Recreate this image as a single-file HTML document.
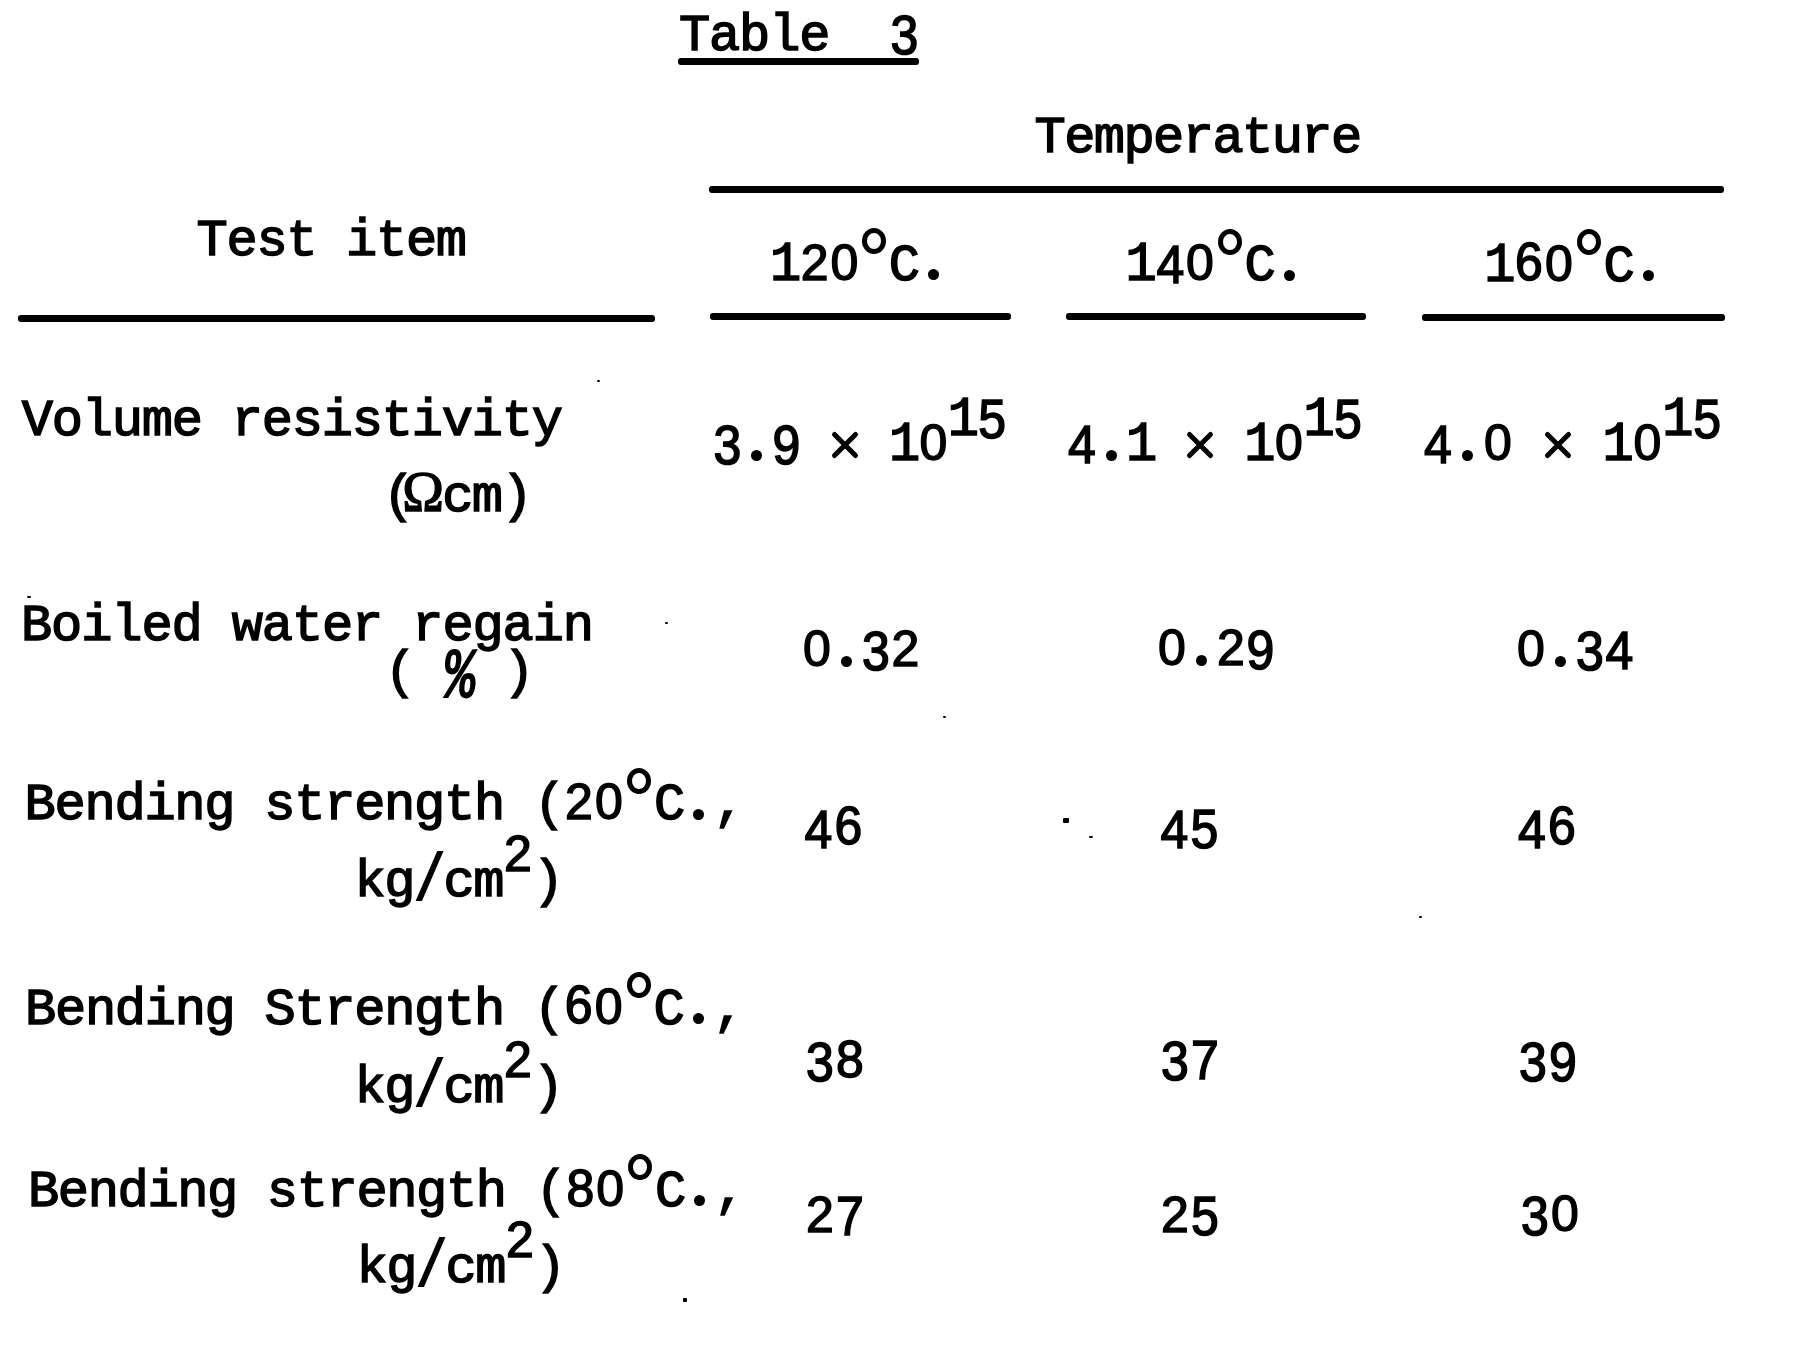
<!DOCTYPE html>
<html><head><meta charset="utf-8"><style>
html,body{margin:0;padding:0;background:#fff;}
body{width:1794px;height:1351px;position:relative;overflow:hidden;}
i{position:absolute;font-style:normal;width:30px;text-align:center;color:#000;white-space:pre;}
.m{font-family:"Liberation Mono",monospace;font-size:52px;line-height:52px;-webkit-text-stroke:1.5px #000;}
.s{font-family:"Liberation Sans",sans-serif;font-size:50px;line-height:50px;-webkit-text-stroke:1.4px #000;}
.om{font-family:"Liberation Serif",serif;-webkit-text-stroke:1.2px #000;font-size:52px;line-height:52px;width:40px;transform:scale(1.08);transform-origin:50% 43px;}
p{position:absolute;margin:0;width:11px;height:11px;border-radius:50%;background:#000;}
u{position:absolute;display:block;width:14px;height:16px;border:5px solid #000;border-radius:50%;}
b{position:absolute;background:#000;display:block;border-radius:3px;}
</style></head><body>

<i class="m" style="left:679.0px;top:11.0px">T</i>
<i class="m" style="left:709.1px;top:11.0px">a</i>
<i class="m" style="left:739.1px;top:11.0px">b</i>
<i class="m" style="left:769.2px;top:11.0px">l</i>
<i class="m" style="left:799.3px;top:11.0px">e</i>
<i class="s" style="left:889.5px;top:8.0px;transform:translateY(2.1px) scaleY(1.11)">3</i>
<i class="m" style="left:1034.5px;top:113.0px">T</i>
<i class="m" style="left:1064.2px;top:113.0px">e</i>
<i class="m" style="left:1093.8px;top:113.0px">m</i>
<i class="m" style="left:1123.5px;top:113.0px">p</i>
<i class="m" style="left:1153.1px;top:113.0px">e</i>
<i class="m" style="left:1182.8px;top:113.0px">r</i>
<i class="m" style="left:1212.4px;top:113.0px">a</i>
<i class="m" style="left:1242.0px;top:113.0px">t</i>
<i class="m" style="left:1271.7px;top:113.0px">u</i>
<i class="m" style="left:1301.3px;top:113.0px">r</i>
<i class="m" style="left:1331.0px;top:113.0px">e</i>
<i class="m" style="left:196.6px;top:215.5px">T</i>
<i class="m" style="left:226.5px;top:215.5px">e</i>
<i class="m" style="left:256.4px;top:215.5px">s</i>
<i class="m" style="left:286.3px;top:215.5px">t</i>
<i class="m" style="left:346.1px;top:215.5px">i</i>
<i class="m" style="left:376.0px;top:215.5px">t</i>
<i class="m" style="left:405.9px;top:215.5px">e</i>
<i class="m" style="left:435.8px;top:215.5px">m</i>
<i class="m" style="left:770.0px;top:240.5px;transform:scaleY(1.07);transform-origin:50% 39px">1</i>
<i class="s" style="left:799.7px;top:237.5px">2</i>
<i class="s" style="left:829.4px;top:237.5px">0</i>
<u style="left:862.1px;top:228.0px"></u>
<i class="m" style="left:888.8px;top:240.5px">C</i>
<p style="left:928.0px;top:269.0px"></p>
<i class="m" style="left:1125.6px;top:241.0px;transform:scaleY(1.07);transform-origin:50% 39px">1</i>
<i class="s" style="left:1155.3px;top:238.0px;transform:translateY(1.2px) scaleY(1.09)">4</i>
<i class="s" style="left:1185.0px;top:238.0px">0</i>
<u style="left:1217.7px;top:228.5px"></u>
<i class="m" style="left:1244.4px;top:241.0px">C</i>
<p style="left:1283.6px;top:269.5px"></p>
<i class="m" style="left:1484.2px;top:241.5px;transform:scaleY(1.07);transform-origin:50% 39px">1</i>
<i class="s" style="left:1514.0px;top:238.5px;transform:translateY(-2px) scaleY(1.06)">6</i>
<i class="s" style="left:1543.9px;top:238.5px">0</i>
<u style="left:1576.8px;top:229.0px"></u>
<i class="m" style="left:1603.6px;top:241.5px">C</i>
<p style="left:1643.0px;top:270.0px"></p>
<i class="m" style="left:21.8px;top:395.5px">V</i>
<i class="m" style="left:51.8px;top:395.5px">o</i>
<i class="m" style="left:81.8px;top:395.5px">l</i>
<i class="m" style="left:111.8px;top:395.5px">u</i>
<i class="m" style="left:141.8px;top:395.5px">m</i>
<i class="m" style="left:171.8px;top:395.5px">e</i>
<i class="m" style="left:231.8px;top:395.5px">r</i>
<i class="m" style="left:261.8px;top:395.5px">e</i>
<i class="m" style="left:291.8px;top:395.5px">s</i>
<i class="m" style="left:321.8px;top:395.5px">i</i>
<i class="m" style="left:351.8px;top:395.5px">s</i>
<i class="m" style="left:381.8px;top:395.5px">t</i>
<i class="m" style="left:411.8px;top:395.5px">i</i>
<i class="m" style="left:441.8px;top:395.5px">v</i>
<i class="m" style="left:471.8px;top:395.5px">i</i>
<i class="m" style="left:501.8px;top:395.5px">t</i>
<i class="m" style="left:531.8px;top:395.5px">y</i>
<i class="m" style="left:383.0px;top:471.5px">(</i>
<i class="om" style="left:402.6px;top:467.5px">Ω</i>
<i class="m" style="left:442.2px;top:471.5px">c</i>
<i class="m" style="left:471.8px;top:471.5px">m</i>
<i class="m" style="left:501.4px;top:471.5px">)</i>
<i class="s" style="left:712.5px;top:418.0px;transform:translateY(2.1px) scaleY(1.11)">3</i>
<p style="left:751.4px;top:449.5px"></p>
<i class="s" style="left:771.3px;top:418.0px;transform:translateY(2.2px) scaleY(1.11)">9</i>
<svg style="position:absolute;left:829.1px;top:428.5px" width="32" height="32" viewBox="0 0 32 32"><path d="M5.5 5.5L26.5 26.5M26.5 5.5L5.5 26.5" stroke="#000" stroke-width="5" stroke-linecap="round"/></svg>
<i class="m" style="left:888.9px;top:421.0px;transform:scaleY(1.07);transform-origin:50% 39px">1</i>
<i class="s" style="left:918.3px;top:418.0px">0</i>
<i class="m" style="left:947.7px;top:396.0px;transform:scaleY(1.07);transform-origin:50% 39px">1</i>
<i class="s" style="left:977.1px;top:393.0px;transform:translateY(0.5px) scaleY(1.12)">5</i>
<i class="s" style="left:1067.0px;top:418.0px;transform:translateY(1.2px) scaleY(1.09)">4</i>
<p style="left:1106.0px;top:449.5px"></p>
<i class="m" style="left:1126.1px;top:421.0px;transform:scaleY(1.07);transform-origin:50% 39px">1</i>
<svg style="position:absolute;left:1184.2px;top:428.5px" width="32" height="32" viewBox="0 0 32 32"><path d="M5.5 5.5L26.5 26.5M26.5 5.5L5.5 26.5" stroke="#000" stroke-width="5" stroke-linecap="round"/></svg>
<i class="m" style="left:1244.3px;top:421.0px;transform:scaleY(1.07);transform-origin:50% 39px">1</i>
<i class="s" style="left:1273.8px;top:418.0px">0</i>
<i class="m" style="left:1303.4px;top:396.0px;transform:scaleY(1.07);transform-origin:50% 39px">1</i>
<i class="s" style="left:1333.0px;top:393.0px;transform:translateY(0.5px) scaleY(1.12)">5</i>
<i class="s" style="left:1423.0px;top:418.0px;transform:translateY(1.2px) scaleY(1.09)">4</i>
<p style="left:1462.4px;top:449.5px"></p>
<i class="s" style="left:1482.8px;top:418.0px">0</i>
<svg style="position:absolute;left:1541.6px;top:428.5px" width="32" height="32" viewBox="0 0 32 32"><path d="M5.5 5.5L26.5 26.5M26.5 5.5L5.5 26.5" stroke="#000" stroke-width="5" stroke-linecap="round"/></svg>
<i class="m" style="left:1602.4px;top:421.0px;transform:scaleY(1.07);transform-origin:50% 39px">1</i>
<i class="s" style="left:1632.3px;top:418.0px">0</i>
<i class="m" style="left:1662.2px;top:396.0px;transform:scaleY(1.07);transform-origin:50% 39px">1</i>
<i class="s" style="left:1692.1px;top:393.0px;transform:translateY(0.5px) scaleY(1.12)">5</i>
<i class="m" style="left:21.0px;top:601.0px">B</i>
<i class="m" style="left:51.1px;top:601.0px">o</i>
<i class="m" style="left:81.2px;top:601.0px">i</i>
<i class="m" style="left:111.3px;top:601.0px">l</i>
<i class="m" style="left:141.4px;top:601.0px">e</i>
<i class="m" style="left:171.5px;top:601.0px">d</i>
<i class="m" style="left:231.7px;top:601.0px">w</i>
<i class="m" style="left:261.8px;top:601.0px">a</i>
<i class="m" style="left:291.9px;top:601.0px">t</i>
<i class="m" style="left:322.0px;top:601.0px">e</i>
<i class="m" style="left:352.1px;top:601.0px">r</i>
<i class="m" style="left:412.3px;top:601.0px">r</i>
<i class="m" style="left:442.4px;top:601.0px">e</i>
<i class="m" style="left:472.5px;top:601.0px">g</i>
<i class="m" style="left:502.6px;top:601.0px">a</i>
<i class="m" style="left:532.7px;top:601.0px">i</i>
<i class="m" style="left:562.8px;top:601.0px">n</i>
<i class="m" style="left:384.8px;top:648.0px">(</i>
<i class="m" style="left:444.0px;top:648.0px;transform:translateY(5px) scale(1.0,1.36) skewX(-8deg)">%</i>
<i class="m" style="left:503.2px;top:648.0px">)</i>
<i class="s" style="left:802.0px;top:624.0px">0</i>
<p style="left:841.0px;top:655.5px"></p>
<i class="s" style="left:861.0px;top:624.0px;transform:translateY(2.1px) scaleY(1.11)">3</i>
<i class="s" style="left:890.5px;top:624.0px">2</i>
<i class="s" style="left:1157.0px;top:623.0px">0</i>
<p style="left:1196.0px;top:654.5px"></p>
<i class="s" style="left:1216.0px;top:623.0px">2</i>
<i class="s" style="left:1245.5px;top:623.0px;transform:translateY(2.2px) scaleY(1.11)">9</i>
<i class="s" style="left:1516.0px;top:624.0px">0</i>
<p style="left:1555.0px;top:655.5px"></p>
<i class="s" style="left:1575.0px;top:624.0px;transform:translateY(2.1px) scaleY(1.11)">3</i>
<i class="s" style="left:1604.5px;top:624.0px;transform:translateY(1.2px) scaleY(1.09)">4</i>
<i class="m" style="left:24.5px;top:780.0px">B</i>
<i class="m" style="left:54.5px;top:780.0px">e</i>
<i class="m" style="left:84.4px;top:780.0px">n</i>
<i class="m" style="left:114.4px;top:780.0px">d</i>
<i class="m" style="left:144.4px;top:780.0px">i</i>
<i class="m" style="left:174.3px;top:780.0px">n</i>
<i class="m" style="left:204.3px;top:780.0px">g</i>
<i class="m" style="left:264.3px;top:780.0px">s</i>
<i class="m" style="left:294.2px;top:780.0px">t</i>
<i class="m" style="left:324.2px;top:780.0px">r</i>
<i class="m" style="left:354.2px;top:780.0px">e</i>
<i class="m" style="left:384.1px;top:780.0px">n</i>
<i class="m" style="left:414.1px;top:780.0px">g</i>
<i class="m" style="left:444.1px;top:780.0px">t</i>
<i class="m" style="left:474.0px;top:780.0px">h</i>
<i class="m" style="left:534.0px;top:780.0px">(</i>
<i class="s" style="left:564.0px;top:777.0px">2</i>
<i class="s" style="left:593.9px;top:777.0px">0</i>
<u style="left:626.9px;top:767.5px"></u>
<i class="m" style="left:653.9px;top:780.0px">C</i>
<p style="left:693.3px;top:808.5px"></p>
<i class="m" style="left:713.8px;top:780.0px">,</i>
<i class="m" style="left:354.5px;top:856.5px">k</i>
<i class="m" style="left:384.2px;top:856.5px">g</i>
<i class="m" style="left:413.9px;top:856.5px;transform:scaleY(1.25)">/</i>
<i class="m" style="left:443.6px;top:856.5px">c</i>
<i class="m" style="left:473.3px;top:856.5px">m</i>
<i class="s" style="left:503.0px;top:828.5px">2</i>
<i class="m" style="left:532.7px;top:856.5px">)</i>
<i class="s" style="left:803.5px;top:802.5px;transform:translateY(1.2px) scaleY(1.09)">4</i>
<i class="s" style="left:833.5px;top:802.5px;transform:translateY(-2px) scaleY(1.06)">6</i>
<i class="s" style="left:1159.5px;top:803.0px;transform:translateY(1.2px) scaleY(1.09)">4</i>
<i class="s" style="left:1189.5px;top:803.0px;transform:translateY(0.5px) scaleY(1.12)">5</i>
<i class="s" style="left:1517.0px;top:803.0px;transform:translateY(1.2px) scaleY(1.09)">4</i>
<i class="s" style="left:1547.0px;top:803.0px;transform:translateY(-2px) scaleY(1.06)">6</i>
<i class="m" style="left:25.0px;top:984.5px">B</i>
<i class="m" style="left:54.9px;top:984.5px">e</i>
<i class="m" style="left:84.9px;top:984.5px">n</i>
<i class="m" style="left:114.8px;top:984.5px">d</i>
<i class="m" style="left:144.7px;top:984.5px">i</i>
<i class="m" style="left:174.7px;top:984.5px">n</i>
<i class="m" style="left:204.6px;top:984.5px">g</i>
<i class="m" style="left:264.4px;top:984.5px">S</i>
<i class="m" style="left:294.4px;top:984.5px">t</i>
<i class="m" style="left:324.3px;top:984.5px">r</i>
<i class="m" style="left:354.2px;top:984.5px">e</i>
<i class="m" style="left:384.2px;top:984.5px">n</i>
<i class="m" style="left:414.1px;top:984.5px">g</i>
<i class="m" style="left:444.0px;top:984.5px">t</i>
<i class="m" style="left:473.9px;top:984.5px">h</i>
<i class="m" style="left:533.8px;top:984.5px">(</i>
<i class="s" style="left:563.7px;top:981.5px;transform:translateY(-2px) scaleY(1.06)">6</i>
<i class="s" style="left:593.7px;top:981.5px">0</i>
<u style="left:626.6px;top:972.0px"></u>
<i class="m" style="left:653.5px;top:984.5px">C</i>
<p style="left:693.0px;top:1013.0px"></p>
<i class="m" style="left:713.4px;top:984.5px">,</i>
<i class="m" style="left:354.5px;top:1063.0px">k</i>
<i class="m" style="left:384.2px;top:1063.0px">g</i>
<i class="m" style="left:413.9px;top:1063.0px;transform:scaleY(1.25)">/</i>
<i class="m" style="left:443.6px;top:1063.0px">c</i>
<i class="m" style="left:473.3px;top:1063.0px">m</i>
<i class="s" style="left:503.0px;top:1035.0px">2</i>
<i class="m" style="left:532.7px;top:1063.0px">)</i>
<i class="s" style="left:805.0px;top:1035.0px;transform:translateY(2.1px) scaleY(1.11)">3</i>
<i class="s" style="left:835.0px;top:1035.0px;transform:translateY(-0.4px) scaleY(1.03)">8</i>
<i class="s" style="left:1160.0px;top:1034.0px;transform:translateY(2.1px) scaleY(1.11)">3</i>
<i class="s" style="left:1190.0px;top:1034.0px;transform:translateY(1.6px) scaleY(1.10)">7</i>
<i class="s" style="left:1518.0px;top:1035.0px;transform:translateY(2.1px) scaleY(1.11)">3</i>
<i class="s" style="left:1548.0px;top:1035.0px;transform:translateY(2.2px) scaleY(1.11)">9</i>
<i class="m" style="left:28.0px;top:1166.5px">B</i>
<i class="m" style="left:57.8px;top:1166.5px">e</i>
<i class="m" style="left:87.7px;top:1166.5px">n</i>
<i class="m" style="left:117.6px;top:1166.5px">d</i>
<i class="m" style="left:147.4px;top:1166.5px">i</i>
<i class="m" style="left:177.2px;top:1166.5px">n</i>
<i class="m" style="left:207.1px;top:1166.5px">g</i>
<i class="m" style="left:266.8px;top:1166.5px">s</i>
<i class="m" style="left:296.7px;top:1166.5px">t</i>
<i class="m" style="left:326.5px;top:1166.5px">r</i>
<i class="m" style="left:356.4px;top:1166.5px">e</i>
<i class="m" style="left:386.2px;top:1166.5px">n</i>
<i class="m" style="left:416.1px;top:1166.5px">g</i>
<i class="m" style="left:445.9px;top:1166.5px">t</i>
<i class="m" style="left:475.8px;top:1166.5px">h</i>
<i class="m" style="left:535.5px;top:1166.5px">(</i>
<i class="s" style="left:565.3px;top:1163.5px;transform:translateY(-0.4px) scaleY(1.03)">8</i>
<i class="s" style="left:595.1px;top:1163.5px">0</i>
<u style="left:628.0px;top:1154.0px"></u>
<i class="m" style="left:654.9px;top:1166.5px">C</i>
<p style="left:694.2px;top:1195.0px"></p>
<i class="m" style="left:714.6px;top:1166.5px">,</i>
<i class="m" style="left:356.5px;top:1243.0px">k</i>
<i class="m" style="left:386.2px;top:1243.0px">g</i>
<i class="m" style="left:415.9px;top:1243.0px;transform:scaleY(1.25)">/</i>
<i class="m" style="left:445.6px;top:1243.0px">c</i>
<i class="m" style="left:475.3px;top:1243.0px">m</i>
<i class="s" style="left:505.0px;top:1215.0px">2</i>
<i class="m" style="left:534.7px;top:1243.0px">)</i>
<i class="s" style="left:805.0px;top:1190.0px">2</i>
<i class="s" style="left:835.0px;top:1190.0px;transform:translateY(1.6px) scaleY(1.10)">7</i>
<i class="s" style="left:1160.0px;top:1190.0px">2</i>
<i class="s" style="left:1190.0px;top:1190.0px;transform:translateY(0.5px) scaleY(1.12)">5</i>
<i class="s" style="left:1520.0px;top:1189.0px;transform:translateY(2.1px) scaleY(1.11)">3</i>
<i class="s" style="left:1550.0px;top:1189.0px">0</i>
<b style="left:678px;top:57.5px;width:241px;height:7px"></b>
<b style="left:709px;top:185.5px;width:1015px;height:7px"></b>
<b style="left:18px;top:314.5px;width:637px;height:7px"></b>
<b style="left:710px;top:312.5px;width:301px;height:7px"></b>
<b style="left:1066px;top:313px;width:300px;height:7px"></b>
<b style="left:1422px;top:314px;width:303px;height:7px"></b>
<b style="left:597px;top:380px;width:3px;height:2px;border-radius:1px"></b>
<b style="left:665px;top:622px;width:3px;height:2px;border-radius:1px"></b>
<b style="left:943px;top:716px;width:3px;height:2px;border-radius:1px"></b>
<b style="left:1063px;top:818px;width:6px;height:5px;border-radius:1px"></b>
<b style="left:1089px;top:836px;width:4px;height:2px;border-radius:1px"></b>
<b style="left:1419px;top:916px;width:3px;height:2px;border-radius:1px"></b>
<b style="left:683px;top:1298px;width:4px;height:4px;border-radius:1px"></b>
<b style="left:27px;top:596px;width:4px;height:2px;border-radius:1px"></b>
</body></html>
